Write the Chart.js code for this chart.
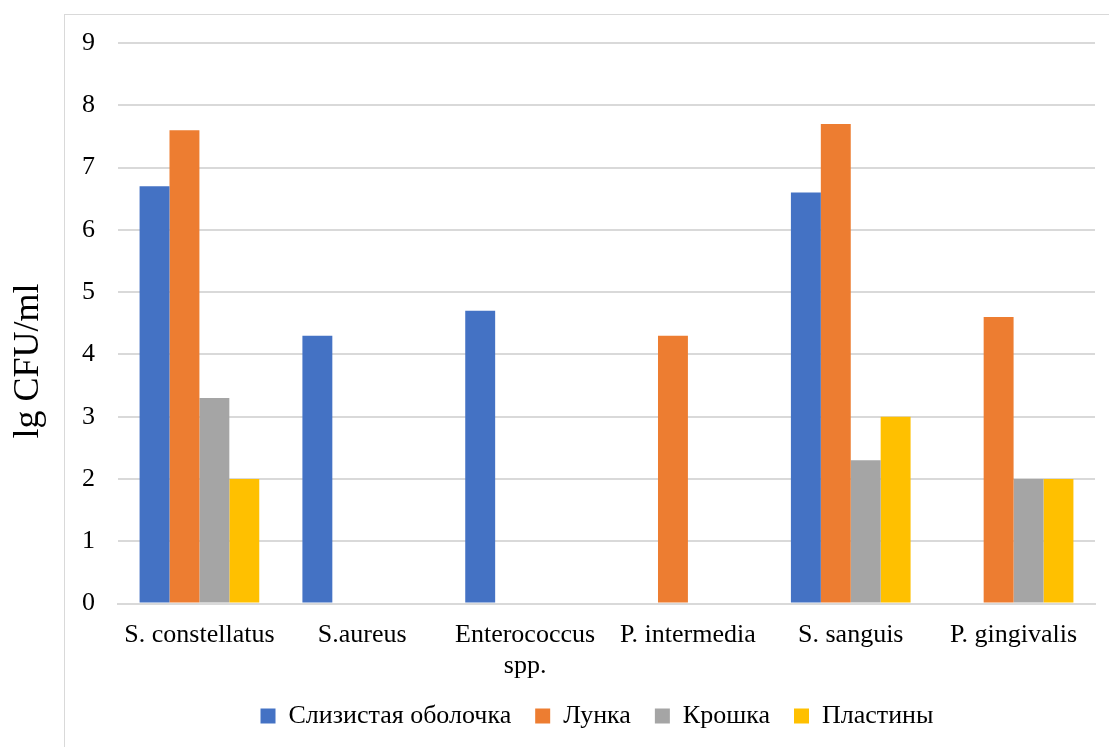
<!DOCTYPE html>
<html lang="ru">
<head>
    <meta charset="UTF-8">
    <title>lg CFU/ml</title>
    <style>
        html, body {
            margin: 0;
            padding: 0;
            background: #fff;
            overflow: hidden;
        }
        .wrap {
            position: relative;
            width: 1109px;
            height: 747px;
        }
        .frame {
            position: absolute;
            left: 64px;
            top: 14px;
            width: 1100px;
            height: 800px;
            border-left: 1px solid #d9d9d9;
            border-top: 1px solid #d9d9d9;
        }
        canvas {
            position: absolute;
            left: 0;
            top: 0;
        }
    </style>
    <script src="https://cdn.jsdelivr.net/npm/chart.js"></script>
</head>
<body>
    <div class="wrap">
        <div class="frame"></div>
        <canvas id="chart" width="1109" height="747"></canvas>
    </div>

    <script>
        // data
        const categories = [
            'S. constellatus',
            'S.aureus',
            ['Enterococcus', 'spp.'],
            'P. intermedia',
            'S. sanguis',
            'P. gingivalis'
        ];
        const seriesNames = ['Слизистая оболочка', 'Лунка', 'Крошка', 'Пластины'];
        const mucosa = [6.7, 4.3, 4.7, 0, 6.6, 0];
        const socket = [7.6, 0, 0, 4.3, 7.7, 4.6];
        const crumb = [3.3, 0, 0, 0, 2.3, 2.0];
        const plates = [2.0, 0, 0, 0, 3.0, 2.0];
        const yTicks = [0, 1, 2, 3, 4, 5, 6, 7, 8, 9];
        const yTitle = 'lg CFU/ml';

        const colors = ['#4472C4', '#ED7D31', '#A5A5A5', '#FFC000'];
        const serif = '"Liberation Serif", "Times New Roman", serif';

        const datasets = [mucosa, socket, crumb, plates].map(function(values, i) {
            return {
                label: seriesNames[i],
                data: values,
                backgroundColor: colors[i],
                borderWidth: 0,
                categoryPercentage: 0.735,
                barPercentage: 1.0
            };
        });

        // legend sits a bit right of and higher than where Chart.js puts it
        const legendShift = {
            id: 'legendShift',
            afterLayout: function(chart) {
                const lg = chart.legend;
                lg.left += 20;
                lg.right += 20;
                lg.top -= 11;
                lg.bottom -= 11;
            }
        };

        // axis title is not centred on the axis in the original, so draw it here
        const sideTitle = {
            id: 'sideTitle',
            afterDraw: function(chart) {
                const c = chart.ctx;
                c.save();
                c.translate(29, 361);
                c.rotate(-Math.PI / 2);
                c.font = '36px ' + serif;
                c.fillStyle = '#000';
                c.textAlign = 'center';
                c.textBaseline = 'middle';
                c.fillText(yTitle, 0, 0);
                c.restore();
            }
        };

        const ctx = document.getElementById('chart').getContext('2d');
        new Chart(ctx, {
            type: 'bar',
            data: {
                labels: categories,
                datasets: datasets
            },
            plugins: [legendShift, sideTitle],
            options: {
                responsive: false,
                animation: false,
                layout: {
                    padding: { left: 59, right: 14, top: 43, bottom: -3 }
                },
                scales: {
                    x: {
                        grid: { display: false },
                        border: { display: true, color: '#d9d9d9', width: 2 },
                        ticks: {
                            color: '#000',
                            font: { family: serif, size: 26 },
                            padding: 8,
                            maxRotation: 0,
                            autoSkip: false
                        }
                    },
                    y: {
                        min: 0,
                        max: 9,
                        afterBuildTicks: function(scale) {
                            scale.ticks = yTicks.map(function(v) { return { value: v }; });
                        },
                        grid: {
                            color: '#d9d9d9',
                            lineWidth: 2,
                            drawTicks: false
                        },
                        border: { display: false },
                        ticks: {
                            color: '#000',
                            font: { family: serif, size: 26 },
                            padding: 23
                        }
                    }
                },
                plugins: {
                    legend: {
                        position: 'bottom',
                        maxHeight: 60,
                        labels: {
                            color: '#000',
                            font: { family: serif, size: 26 },
                            boxWidth: 15,
                            boxHeight: 15,
                            padding: 24
                        }
                    },
                    tooltip: { enabled: false }
                }
            }
        });
    </script>
</body>
</html>
